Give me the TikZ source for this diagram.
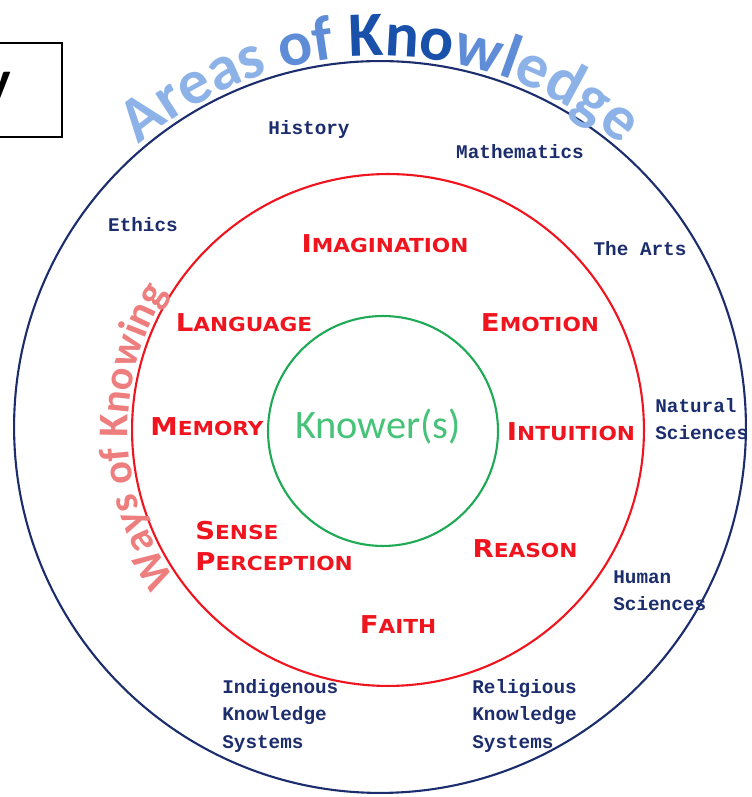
\documentclass[tikz,border=0pt]{standalone}
\usepackage{fontspec}
\usetikzlibrary{decorations.text}
\newfontfamily\aokfont{Carlito}
\newfontfamily\wokfont[FakeStretch=1.12]{DejaVu Sans}
\newfontfamily\typefont{Liberation Mono}
\definecolor{aoknavy}{RGB}{28,45,110}
\definecolor{wokred}{RGB}{240,20,30}
\definecolor{knowgreen}{RGB}{30,170,85}
\definecolor{knowtext}{RGB}{70,195,120}
\definecolor{waypink}{RGB}{238,125,125}
\definecolor{aokpale}{RGB}{140,178,232}
\definecolor{aokmid}{RGB}{95,140,215}
\definecolor{aokdark}{RGB}{25,80,170}
\newcommand{\wokcap}[2]{{\fontsize{14}{17.6}\selectfont #1}{\fontsize{11}{17.6}\selectfont #2}}
\newcommand{\aokhead}{\aokfont\bfseries\fontsize{36}{36}\selectfont}
\newcommand{\wayhead}{\aokfont\bfseries\fontsize{24}{24}\selectfont}
\tikzset{
  ring/.style={circle, draw=#1, line width=1.2pt, inner sep=0pt, outer sep=0pt},
  wok/.style={text=wokred, font=\wokfont\bfseries\fontsize{14}{17.6}\selectfont, align=left, inner sep=0pt},
  aok/.style={text=aoknavy, font=\typefont\bfseries\fontsize{11}{15.6}\selectfont, align=left, inner sep=0pt}
}

\begin{document}
\begin{tikzpicture}[x=0.02cm, y=0.02cm]
\useasboundingbox (0,0) rectangle (751,797);
\clip (0,0) rectangle (751,797);

% Title box, cut off at the left edge
\node[draw, line width=1.2pt, minimum width=2.5cm, minimum height=1.88cm, inner sep=0pt] (titlebox) at (-0.5,707) {};
\node[anchor=base east, inner sep=0pt, font=\aokfont\bfseries\fontsize{32}{32}\selectfont] (titletail) at (11,697) {y};

% The three rings
\node[ring=aoknavy, minimum size=14.64cm] (aok) at (380,370) {};
\node[ring=wokred, minimum size=10.24cm] (wok) at (388,367) {};
\node[ring=knowgreen, minimum size=4.6cm] (knower) at (383,366) {};

% Curved headings
\path[decorate, decoration={text along path, text align=center,
  text={|\aokhead\color{aokpale}|Areas |\aokhead\color{aokmid}|of |\aokhead\color{aokdark}|Kno|\aokhead\color{aokmid}|wl|\aokhead\color{aokpale}|edge}}]
  (aok.center) ++(140:371) arc[start angle=140, end angle=40, radius=7.42cm];
\path[decorate, decoration={text along path, text align=center,
  text={|\wayhead\color{waypink}|Ways of Knowing}}]
  (wok.center) ++(219:260) arc[start angle=219, end angle=144, radius=5.2cm];

% Ways of knowing
\node[wok] (imagination) at (385,553) {\wokcap{I}{MAGINATION}};
\node[wok] (language) at (244,474) {\wokcap{L}{ANGUAGE}};
\node[wok] (emotion) at (540,474) {\wokcap{E}{MOTION}};
\node[wok] (memory) at (207,370) {\wokcap{M}{EMORY}};
\node[wok] (intuition) at (571,365) {\wokcap{I}{NTUITION}};
\node[wok, anchor=west] (sense) at (195,251) {\wokcap{S}{ENSE}\\\wokcap{P}{ERCEPTION}};
\node[wok] (reason) at (525,248) {\wokcap{R}{EASON}};
\node[wok] (faith) at (398,172) {\wokcap{F}{AITH}};

% Knower in the middle
\node[text=knowtext, font=\aokfont\fontsize{23}{25}\selectfont, inner sep=0pt] (knowers) at (378,370) {Knower(s)};

% Areas of knowledge
\node[aok] (history) at (309,667) {History};
\node[aok] (maths) at (520,645) {Mathematics};
\node[aok] (ethics) at (143,572) {Ethics};
\node[aok] (arts) at (640,548) {The Arts};
\node[aok, anchor=west] (natsci) at (655,378) {Natural\\Sciences};
\node[aok, anchor=west] (humsci) at (613,206) {Human\\Sciences};
\node[aok, anchor=west] (iks) at (222,81) {Indigenous\\Knowledge\\Systems};
\node[aok, anchor=west] (rks) at (472,81) {Religious\\Knowledge\\Systems};
\end{tikzpicture}
\end{document}
